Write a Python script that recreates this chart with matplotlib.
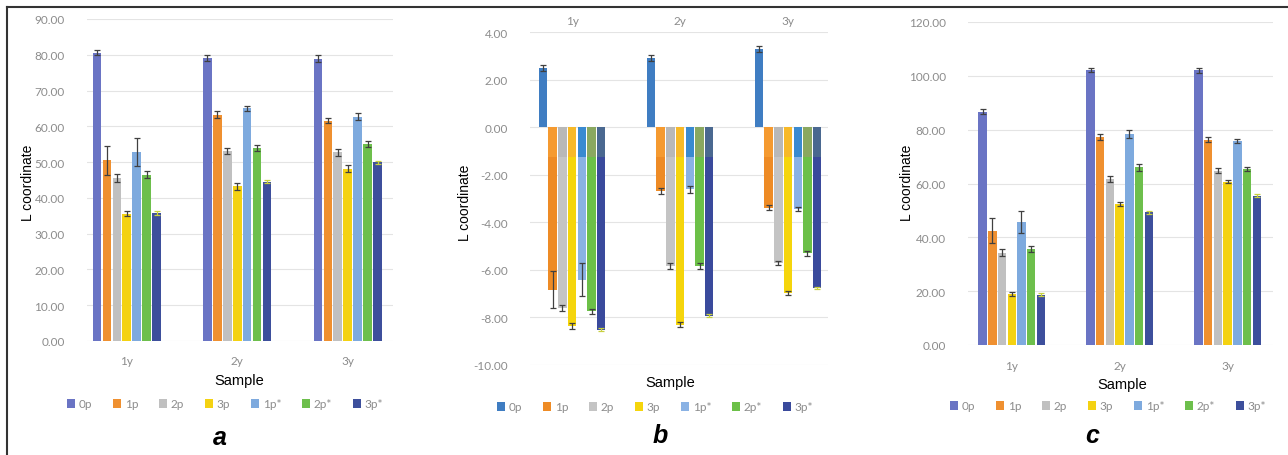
import numpy as np
import matplotlib
matplotlib.use('Agg')
import matplotlib.pyplot as plt
from matplotlib.patches import Patch
from matplotlib.lines import Line2D

plt.rcParams['font.family'] = ['Lato', 'DejaVu Sans']

# Categories and series
samples = ['1y', '2y', '3y']
series = ['0p', '1p', '2p', '3p', '1p*', '2p*', '3p*']

# Panel a: L coordinate (rows = series, cols = samples)
a_vals = [[80.5, 79.2, 78.9],
          [50.5, 63.3, 61.5],
          [45.6, 53.1, 52.7],
          [35.5, 43.2, 48.2],
          [52.8, 65.0, 62.7],
          [46.5, 54.0, 55.0],
          [35.7, 44.5, 50.0]]
a_err = [[0.7, 0.8, 0.9],
         [4.0, 1.0, 0.7],
         [1.2, 0.8, 0.9],
         [0.7, 0.9, 0.9],
         [4.0, 0.8, 0.9],
         [1.0, 0.8, 0.8],
         [0.5, 0.4, 0.4]]

# Panel b: difference values
b_vals = [[2.50, 2.92, 3.30],
          [-6.83, -2.69, -3.39],
          [-7.60, -5.85, -5.71],
          [-8.37, -8.30, -6.97],
          [-6.41, -2.62, -3.44],
          [-7.74, -5.85, -5.31],
          [-8.51, -7.92, -6.76]]
b_err = [[0.12, 0.12, 0.12],
         [0.78, 0.12, 0.10],
         [0.12, 0.12, 0.10],
         [0.12, 0.10, 0.10],
         [0.70, 0.15, 0.10],
         [0.10, 0.12, 0.10],
         [0.05, 0.05, 0.05]]

# Panel c
c_vals = [[86.7, 102.2, 102.0],
          [42.5, 77.2, 76.3],
          [34.3, 61.7, 64.8],
          [19.0, 52.4, 60.7],
          [45.6, 78.4, 75.8],
          [35.6, 66.0, 65.4],
          [18.7, 49.3, 55.5]]
c_err = [[0.8, 0.8, 0.8],
         [4.5, 1.2, 1.0],
         [1.3, 1.1, 0.8],
         [0.8, 0.8, 0.6],
         [4.0, 1.5, 0.8],
         [1.2, 1.2, 0.8],
         [0.5, 0.5, 0.5]]

colors = ['#6a74c4', '#ef9030', '#c0c0c0', '#f4d212', '#7eaade', '#6dbf4c', '#3d4f9c']
colors_b = ['#3f7dc2', '#ee8b25', '#c4c4c4', '#f5d50c', '#8ab2e4', '#6cc048', '#3a4a9c']
shade_b = ['#3f7dc2', '#f59a30', '#b8b8b8', '#f7b928', '#3a8ad0', '#8aa860', '#4a6890']
err_colors = ['#404040'] * 6 + ['#c8d040']

W, H = 1288, 456
fig = plt.figure(figsize=(W / 100, H / 100), dpi=100)


def px_axes(left, right, top, bottom):
    return fig.add_axes([left / W, 1 - bottom / H, (right - left) / W, (bottom - top) / H])


def draw_panel(ax, vals, errs, cols, ylim, yticks, xlim, shade=None):
    x = np.arange(len(samples))
    pitch = 0.09
    for i, name in enumerate(series):
        pos = x + (i - 3) * pitch
        ax.bar(pos, vals[i], width=0.078, color=cols[i], zorder=3)
        if shade is not None:
            tops = [max(v, -1.25) if v < 0 else 0 for v in vals[i]]
            ax.bar(pos, tops, width=0.078, color=shade[i], zorder=3)
        ax.errorbar(pos, vals[i], yerr=errs[i], fmt='none', ecolor=err_colors[i],
                    elinewidth=0.9, capsize=2, capthick=0.9, zorder=4)
    ax.set_xlim(*xlim)
    ax.set_ylim(*ylim)
    ax.set_yticks(yticks)
    ax.set_yticklabels([f'{t:.2f}' for t in yticks])
    ax.set_xticks(x)
    ax.set_xticklabels(samples)
    ax.yaxis.grid(True, color='#e4e4e4', linewidth=0.8, zorder=0)
    ax.set_axisbelow(True)
    for s in ax.spines.values():
        s.set_visible(False)
    ax.tick_params(axis='both', length=0, labelsize=8.5, labelcolor='#8c8c8c')
    ax.tick_params(axis='y', pad=16)


ax_a = px_axes(87, 393, 20, 342)
draw_panel(ax_a, a_vals, a_err, colors, (0, 90), np.arange(0, 91, 10), (-0.36, 2.41))
ax_a.tick_params(axis='x', pad=10)

ax_b = px_axes(530, 828, 33, 366)
draw_panel(ax_b, b_vals, b_err, colors_b, (-10, 4), np.arange(-10, 5, 2), (-0.39, 2.37), shade=shade_b)
ax_b.xaxis.tick_top()
ax_b.tick_params(axis='x', pad=4)

ax_c = px_axes(968, 1273, 23, 346)
draw_panel(ax_c, c_vals, c_err, colors, (0, 120), np.arange(0, 121, 20), (-0.405, 2.42))
ax_c.tick_params(axis='x', pad=11)

# Axis titles, legends and panel letters
label_font = 'Liberation Sans'
for ax, cols, ylx, yly, sx, sy, lx, ly, letter, ltx, lty in [
        (ax_a, colors, 28, 183, 239, 381, 225, 405, 'a', 220, 438),
        (ax_b, colors_b, 465, 203, 670, 383, 655, 408, 'b', 660, 436),
        (ax_c, colors, 907, 183, 1122, 385, 1108, 407, 'c', 1092, 436)]:
    fig.text(ylx / W, 1 - yly / H, 'L coordinate', rotation=90, ha='center', va='center',
             fontsize=10, family=label_font)
    fig.text(sx / W, 1 - sy / H, 'Sample', ha='center', va='center', fontsize=10.5, family=label_font)
    fig.text(ltx / W, 1 - lty / H, letter, ha='center', va='center', fontsize=18,
             fontweight='bold', fontstyle='italic', family=label_font)
    handles = [Patch(facecolor=c, edgecolor='none') for c in cols]
    ax.legend(handles, series, loc='center', bbox_to_anchor=(lx / W, 1 - ly / H),
              bbox_transform=fig.transFigure, ncol=7, frameon=False, fontsize=8.5,
              labelcolor='#8c8c8c', handlelength=0.7, handleheight=0.7,
              handletextpad=0.3, columnspacing=1.75)

# Frame lines on top and left edges
fig.add_artist(Line2D([7 / W, 1], [1 - 8 / H, 1 - 8 / H], color='#333333', linewidth=1.5))
fig.add_artist(Line2D([7 / W, 7 / W], [0, 1 - 8 / H], color='#333333', linewidth=1.5))

fig.savefig('out.png', dpi=100)
